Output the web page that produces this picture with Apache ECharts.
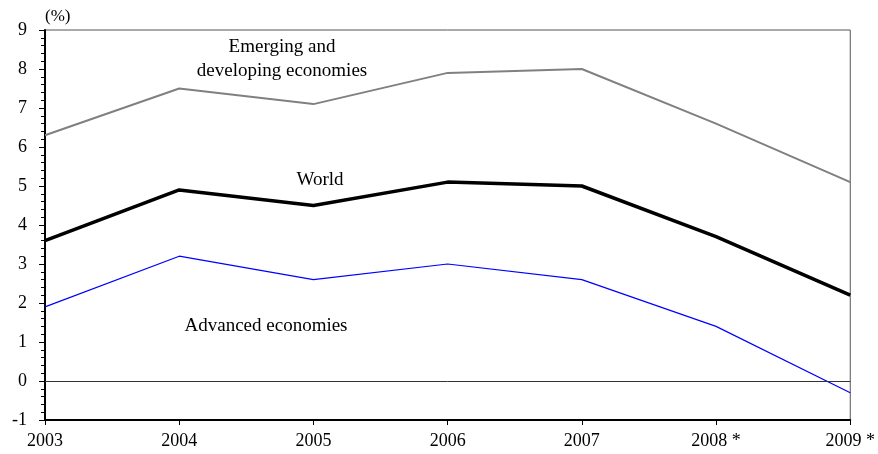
<!DOCTYPE html>
<html><head><meta charset="utf-8">
<script src="https://cdn.jsdelivr.net/npm/echarts@6/dist/echarts.min.js"></script>
<style>html,body{margin:0;padding:0;background:#fff}#c{width:878px;height:454px}</style>
</head><body><div id="c"></div>
<script>
const years = ['2003','2004','2005','2006','2007','2008 *','2009 *'];
const emerging = [6.3, 7.5, 7.1, 7.9, 8.0, 6.6, 5.1];
const world = [3.6, 4.9, 4.5, 5.1, 5.0, 3.7, 2.2];
const advanced = [1.9, 3.2, 2.6, 3.0, 2.6, 1.4, -0.3];
const F = 'Liberation Serif, Times New Roman, serif';
const chart = echarts.init(document.getElementById('c'), null, {renderer:'canvas'});
chart.setOption({
  animation:false,
  grid:{left:45, right:25, top:30, bottom:34, show:true, borderColor:'#555', borderWidth:1},
  xAxis:{type:'category', data:years, boundaryGap:false,
    axisLine:{onZero:false, lineStyle:{color:'#000', width:2}},
    axisTick:{show:true, length:5, lineStyle:{color:'#000'}},
    axisLabel:{color:'#000', fontFamily:F, fontSize:18, margin:12, interval:0},
    splitLine:{show:false}},
  yAxis:{type:'value', min:-1, max:9, interval:1,
    name:'(%)', nameLocation:'end', nameGap:5,
    nameTextStyle:{color:'#000', fontFamily:F, fontSize:17, align:'left', padding:[0,0,0,0]},
    axisLine:{show:true, lineStyle:{color:'#000', width:2}},
    axisTick:{show:true, length:6, lineStyle:{color:'#000'}},
    minorTick:{show:true, splitNumber:5, length:4, lineStyle:{color:'#000'}},
    axisLabel:{color:'#000', fontFamily:F, fontSize:18, margin:18},
    splitLine:{show:false}},
  series:[
    {type:'line', data:emerging, symbol:'none', lineStyle:{color:'#808080', width:2}},
    {type:'line', data:world, symbol:'none', lineStyle:{color:'#000', width:3.5}},
    {type:'line', data:advanced, symbol:'none', lineStyle:{color:'#0000ff', width:1.2},
      markLine:{silent:true, symbol:'none', label:{show:false},
        lineStyle:{color:'#333', width:1, type:'solid'}, data:[{yAxis:0}]}}
  ],
  graphic:[
    {type:'text', x:282, y:47, style:{text:'Emerging and', font:'19px '+F, fill:'#000', textAlign:'center', textVerticalAlign:'middle'}},
    {type:'text', x:282, y:71, style:{text:'developing economies', font:'19px '+F, fill:'#000', textAlign:'center', textVerticalAlign:'middle'}},
    {type:'text', x:320, y:180, style:{text:'World', font:'19px '+F, fill:'#000', textAlign:'center', textVerticalAlign:'middle'}},
    {type:'text', x:266, y:326, style:{text:'Advanced economies', font:'19px '+F, fill:'#000', textAlign:'center', textVerticalAlign:'middle'}}
  ]
});
</script></body></html>
